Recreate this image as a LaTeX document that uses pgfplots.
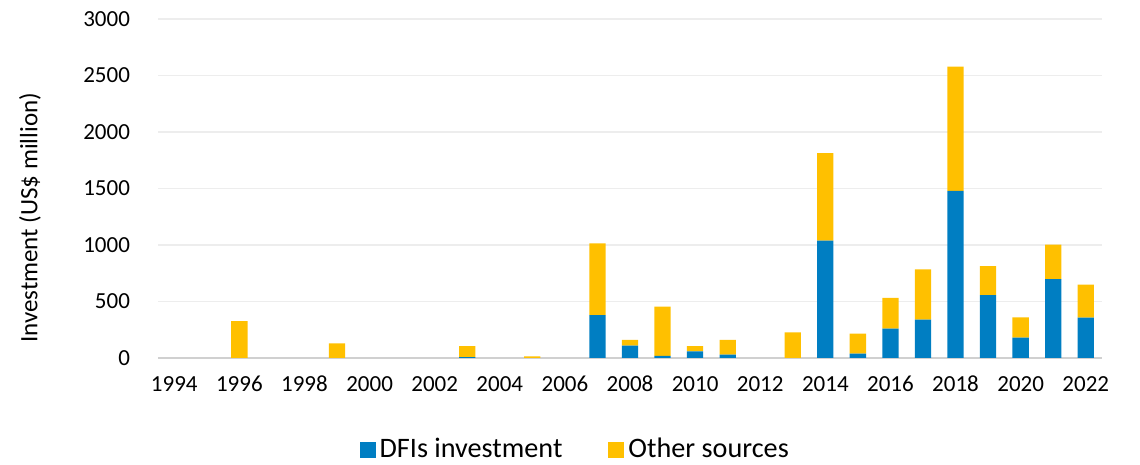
\documentclass[border=0pt]{standalone}
\usepackage{pgfplots}
\pgfplotsset{compat=1.18}
\usepackage{pgfplotstable}
\usepackage{fontspec}
\setmainfont{Carlito}
\definecolor{dfiblue}{HTML}{007EC2}
\definecolor{othyellow}{HTML}{FFC000}
\definecolor{gridgrey}{HTML}{EDEDED}
\definecolor{basegrey}{HTML}{D0D0D0}

\pgfplotstableread{
year dfi other
1996 0 327
1999 0 130
2003 8 96
2005 0 15
2007 380 635
2008 109 51
2009 18 436
2010 59 45
2011 29 131
2013 0 227
2014 1038 774
2015 38 177
2016 259 272
2017 339 446
2018 1478 1100
2019 557 257
2020 180 180
2021 697 306
2022 357 292
}\invdata

\begin{document}
\begin{tikzpicture}
\begin{axis}[
  name=ax,
  scale only axis,
  width=472pt, height=169.5pt,
  ybar stacked,
  bar width=0.5,
  xmin=1993.5, xmax=2022.5,
  ymin=0, ymax=3000,
  xtick={1994,1996,...,2022},
  ytick={0,500,...,3000},
  x tick label style={/pgf/number format/1000 sep={}, yshift=-5pt, text height=8pt, text depth=0pt},
  y tick label style={/pgf/number format/1000 sep={}, xshift=-10.5pt},
  /pgf/number format/assume math mode=true,
  ticklabel style={font=\fontsize{11.5}{13}\selectfont},
  major tick length=0pt,
  axis x line*=bottom,
  axis y line*=left,
  x axis line style={draw=basegrey, line width=1pt},
  y axis line style={draw=none},
  ymajorgrids,
  grid style={draw=gridgrey, line width=0.8pt},
  ylabel={Investment (US\$ million)},
  ylabel style={font=\fontsize{12.5}{14}\selectfont, at={(rel axis cs:-0.1356,0.413)}, anchor=center},
  legend columns=2,
  legend style={draw=none, at={(0.443,-0.27)}, anchor=center,
    font=\fontsize{14.1}{16}\selectfont,
    /tikz/every odd column/.append style={column sep=0pt},
    /tikz/every even column/.append style={column sep=21pt}},
  legend image code/.code={\fill[#1] (0pt,-4pt) rectangle (8pt,4pt);},
]
\addplot[fill=dfiblue, draw=none] table[x=year, y=dfi] {\invdata};
\addlegendentry{DFIs investment}
\addplot[fill=othyellow, draw=none] table[x=year, y=other] {\invdata};
\addlegendentry{Other sources}
\end{axis}
\pgfresetboundingbox
\path[use as bounding box] ([shift={(-79pt,-53.5pt)}]ax.south west) rectangle ([shift={(19pt,9.5pt)}]ax.north east);
\end{tikzpicture}
\end{document}
